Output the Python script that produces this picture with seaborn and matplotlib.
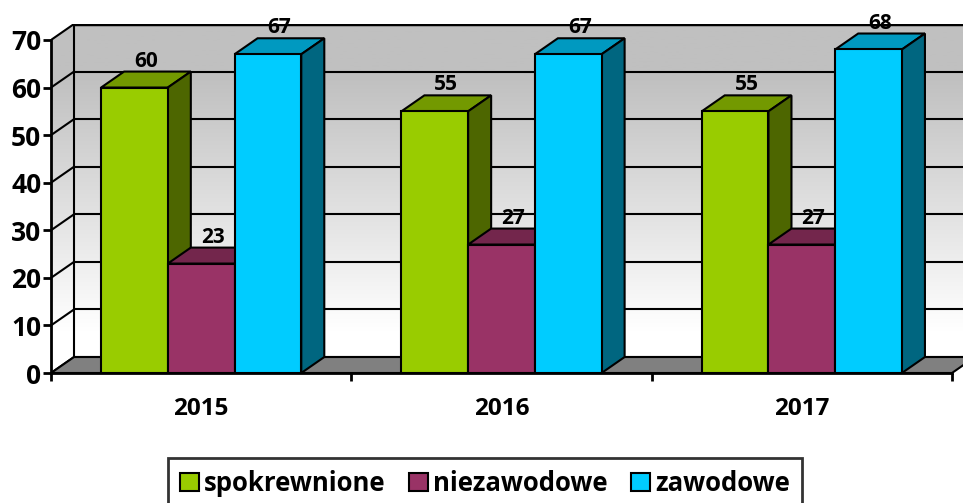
import numpy as np
import pandas as pd
import matplotlib.pyplot as plt
import seaborn as sns
from matplotlib.patches import Polygon, Patch
from matplotlib.colors import LinearSegmentedColormap

lata = ['2015', '2016', '2017']
serie = ['spokrewnione', 'niezawodowe', 'zawodowe']
spokrewnione = [60, 55, 55]
niezawodowe = [23, 27, 27]
zawodowe = [67, 67, 68]

kolory = {'spokrewnione': '#99CC00', 'niezawodowe': '#993366', 'zawodowe': '#00CCFF'}
kolory_gora = {'spokrewnione': '#739900', 'niezawodowe': '#73264C', 'zawodowe': '#0099C0'}
kolory_bok = {'spokrewnione': '#4D6600', 'niezawodowe': '#4D1A33', 'zawodowe': '#006680'}

df = pd.DataFrame({
    'rok': lata * 3,
    'typ': np.repeat(serie, 3),
    'wartosc': spokrewnione + niezawodowe + zawodowe,
})

sns.set_style('white')
plt.rcParams['font.family'] = ['Open Sans', 'DejaVu Sans']
plt.rcParams['text.color'] = 'black'
plt.rcParams['xtick.color'] = 'black'
plt.rcParams['ytick.color'] = 'black'

W, H = 963, 503
fig = plt.figure(figsize=(W / 100, H / 100), dpi=100)

# glebokosc "3D" w jednostkach danych
DX = 23 / 300
DY = 3.36
YMAX = 70

ax = fig.add_axes([51 / W, (H - 373) / H, 924 / W, 349 / H])

sns.barplot(data=df, x='rok', y='wartosc', hue='typ', palette=kolory,
            width=2 / 3, gap=0, saturation=1, edgecolor='black', linewidth=1.5,
            legend=False, ax=ax)

# sciany (gradient)
x0, x1 = -0.5, len(lata) - 0.5
grad = np.linspace(0, 1, 256).reshape(-1, 1)
cmap_sciana = LinearSegmentedColormap.from_list(
    'sciana', [(0, 'white'), (0.12, 'white'), (0.85, '#c0c0c0'), (1, '#c0c0c0')])
img = ax.imshow(grad, extent=(x0, x1 + DX, 0, YMAX + DY), origin='lower',
                aspect='auto', cmap=cmap_sciana, vmin=0, vmax=1, zorder=0)
sciany = Polygon([(x0, 0), (x0, YMAX), (x0 + DX, YMAX + DY), (x1 + DX, YMAX + DY),
                  (x1 + DX, DY), (x0 + DX, DY)], closed=True, transform=ax.transData,
                 facecolor='none', edgecolor='none')
ax.add_patch(sciany)
img.set_clip_path(sciany)

for v in range(0, YMAX + 1, 10):
    lw = 2.5 if v == YMAX else 1.5
    ax.plot([x0 + DX, x1 + DX], [v + DY, v + DY], color='black', lw=lw, zorder=1)
    ax.plot([x0, x0 + DX], [v, v + DY], color='black', lw=1.5, zorder=1)
ax.plot([x0 + DX, x0 + DX], [DY, YMAX + DY], color='black', lw=1.5, zorder=1)

# podloga
ax.add_patch(Polygon([(x0, 0), (x1, 0), (x1 + DX, DY), (x0 + DX, DY)], closed=True,
                     facecolor='#808080', edgecolor='black', lw=1.5, zorder=2))

# slupki 3D
bary = ax.patches[:len(lata) * len(serie)]
for i, bar in enumerate(bary):
    s = i // len(lata)
    c = i % len(lata)
    typ = serie[s]
    z = 10 + c * 10 + s * 3
    bx0 = bar.get_x()
    bx1 = bx0 + bar.get_width()
    h = bar.get_height()
    ax.add_patch(Polygon([(bx0, h), (bx1, h), (bx1 + DX, h + DY), (bx0 + DX, h + DY)],
                         closed=True, facecolor=kolory_gora[typ], edgecolor='black',
                         lw=1.5, zorder=z))
    ax.add_patch(Polygon([(bx1, 0), (bx1 + DX, DY), (bx1 + DX, h + DY), (bx1, h)],
                         closed=True, facecolor=kolory_bok[typ], edgecolor='black',
                         lw=1.5, zorder=z + 1))
    bar.set_zorder(z + 2)
    ax.annotate(f'{h:.0f}', (bx0 + bar.get_width() / 2 + DX / 2, h + DY),
                xytext=(0, 0), textcoords='offset points', ha='center', va='bottom',
                fontsize=15, fontweight='bold', color='black', zorder=100)

ax.set_xlim(x0, x1 + DX)
ax.set_ylim(0, YMAX + DY)
ax.set_yticks(range(0, YMAX + 1, 10))
ax.set_xticks(range(len(lata)))
ax.set_xticklabels(lata)
ax.set_xticks([x0 + k for k in range(len(lata) + 1)], minor=True)
ax.set_xlabel('')
ax.set_ylabel('')

for side in ['top', 'right']:
    ax.spines[side].set_visible(False)
ax.spines['left'].set_bounds(0, YMAX)
ax.spines['bottom'].set_bounds(x0, x1)
for side in ['left', 'bottom']:
    ax.spines[side].set_linewidth(2)
    ax.spines[side].set_color('black')
    ax.spines[side].set_zorder(5)

ax.tick_params(axis='y', which='major', left=True, length=6, width=2, pad=1,
               labelsize=19, direction='out', color='black', labelcolor='black')
ax.tick_params(axis='x', which='major', length=0, pad=17, labelsize=17.5,
               labelcolor='black')
ax.tick_params(axis='x', which='minor', bottom=True, length=6, width=2,
               direction='out', color='black')
for t in ax.get_xticklabels() + ax.get_yticklabels():
    t.set_fontweight('bold')

uchwyty = [Patch(facecolor=kolory[s], edgecolor='black', lw=1.5, label=s) for s in serie]
leg = fig.legend(handles=uchwyty, loc='upper center', bbox_to_anchor=(485 / W, 1 - 458 / H),
                 ncol=3, frameon=True, fancybox=False, edgecolor='black',
                 handlelength=0.75, handleheight=0.7, handletextpad=0.2,
                 columnspacing=0.9, borderpad=0.45, borderaxespad=0,
                 prop={'family': 'Open Sans', 'weight': 'bold', 'size': 18.5})
leg.get_frame().set_linewidth(2)
for t in leg.get_texts():
    t.set_color('black')

fig.savefig('out.png', dpi=100)
